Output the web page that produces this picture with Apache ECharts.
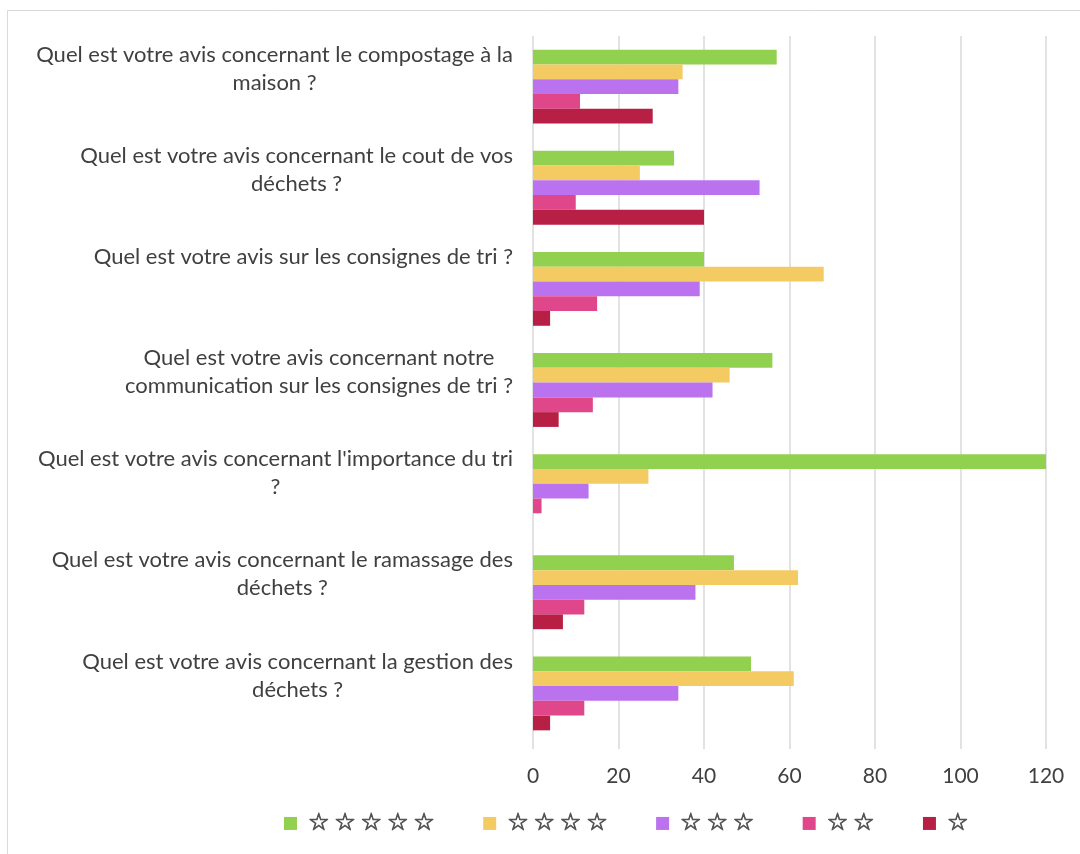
<!DOCTYPE html>
<html>
<head>
<meta charset="utf-8">
<script src="https://cdn.jsdelivr.net/npm/echarts@6/dist/echarts.min.js"></script>
<style>
  html, body { margin: 0; padding: 0; background: #ffffff; }
  #chart { width: 1080px; height: 854px; }
</style>
</head>
<body>
<div id="chart"></div>
<script>
// Survey questions (line breaks mark where each label wraps)
const questions = [
  "Quel est votre avis concernant le compostage à la\nmaison ?",
  "Quel est votre avis concernant le cout de vos\ndéchets ?",
  "Quel est votre avis sur les consignes de tri ?",
  "Quel est votre avis concernant notre\ncommunication sur les consignes de tri ?",
  "Quel est votre avis concernant l'importance du tri\n?",
  "Quel est votre avis concernant le ramassage des\ndéchets ?",
  "Quel est votre avis concernant la gestion des\ndéchets ?"
];

// Number of answers per rating, one array per rating level
const stars5 = [57, 33, 40, 56, 120, 47, 51];
const stars4 = [35, 25, 68, 46, 27, 62, 61];
const stars3 = [34, 53, 39, 42, 13, 38, 34];
const stars2 = [11, 10, 15, 14, 2, 12, 12];
const stars1 = [28, 40, 4, 6, 0, 7, 4];

const ratingNames = ["☆☆☆☆☆", "☆☆☆☆", "☆☆☆", "☆☆", "☆"];
const ratingColors = ["#92d050", "#f3cb62", "#bb72ee", "#e0478a", "#b81f44"];
const ratingValues = [stars5, stars4, stars3, stars2, stars1];

// Value axis ticks
const axisMin = 0;
const axisMax = 120;
const axisStep = 20;

const textColor = "#404040";
const labelFont = "Lato";

const chart = echarts.init(document.getElementById("chart"), null, { renderer: "canvas" });

const series = ratingNames.map((name, i) => ({
  name: name,
  type: "bar",
  data: ratingValues[i],
  barGap: "0%",
  barCategoryGap: "27%",
  itemStyle: { color: ratingColors[i] },
  emphasis: { disabled: true }
}));

chart.setOption({
  animation: false,
  backgroundColor: "#ffffff",
  graphic: [{
    type: "rect",
    silent: true,
    z: -10,
    shape: { x: 7.5, y: 10.5, width: 1100, height: 900 },
    style: { fill: "none", stroke: "#d9d9d9", lineWidth: 1 }
  }],
  grid: { left: 533, right: 34, top: 36, bottom: 110, containLabel: false },
  xAxis: {
    type: "value",
    min: axisMin,
    max: axisMax,
    interval: axisStep,
    axisLine: { show: false },
    axisTick: { show: true, length: 5, lineStyle: { color: "#d9d9d9", width: 1.5 } },
    splitLine: { show: true, lineStyle: { color: "#d9d9d9", width: 1.5 } },
    axisLabel: { color: textColor, fontFamily: labelFont, fontSize: 21, margin: 22 }
  },
  yAxis: {
    type: "category",
    inverse: true,
    data: questions,
    axisLine: { show: false },
    axisTick: { show: false },
    axisLabel: {
      align: "right",
      verticalAlign: "middle",
      margin: 20,
      interval: 0,
      formatter: function (value) {
        const lines = value.split("\n");
        if (lines.length < 2) lines.push(" ");
        return lines.map(l => "{t|" + l + "}").join("\n") + "\n{f| }";
      },
      rich: {
        t: { align: "center", color: textColor, fontFamily: labelFont, fontSize: 22, lineHeight: 28 },
        f: { align: "center", fontSize: 2, lineHeight: 36 }
      }
    }
  },
  legend: {
    left: 279,
    top: 806,
    itemWidth: 13,
    itemHeight: 13,
    itemGap: 48,
    icon: "rect",
    selectedMode: false,
    formatter: function (name) { return name.split("").join("\u2009"); },
    textStyle: {
      color: "#555555",
      fontFamily: "DejaVu Sans",
      fontSize: 24,
      textBorderColor: "#555555",
      textBorderWidth: 0.9,
      padding: [0, 0, 0, 6]
    },
    data: ratingNames
  },
  series: series
});
</script>
</body>
</html>
